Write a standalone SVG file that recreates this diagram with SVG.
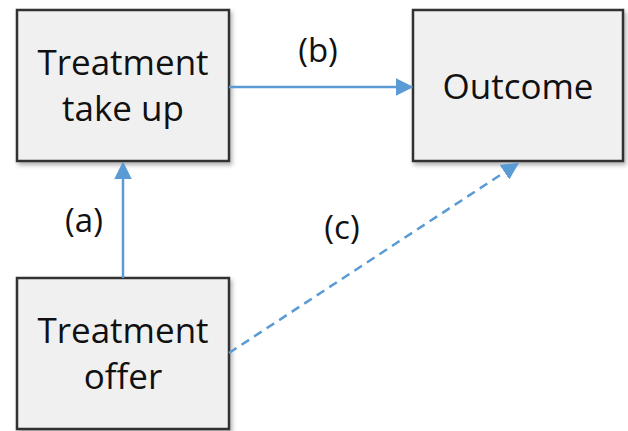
<svg xmlns="http://www.w3.org/2000/svg" width="628" height="431" viewBox="0 0 628 431">
<style>
.box{fill:#f0f0f0;stroke:#333;stroke-width:2.5}
.t{font-family:"Open Sans","Noto Sans",sans-serif;font-size:35px;fill:#111;text-anchor:middle}
.lbl{font-family:"Open Sans","Noto Sans",sans-serif;font-size:33px;fill:#111;text-anchor:middle}
.con{stroke:#5b9bd5;stroke-width:2.5;fill:none}
</style>
<defs>
<marker id="ah" markerWidth="7" markerHeight="7" refX="6" refY="3.5" orient="auto" markerUnits="strokeWidth">
<path d="M0,0 L7,3.5 L0,7 Z" fill="#5b9bd5"/>
</marker>
<filter id="sh" x="-10%" y="-10%" width="130%" height="130%">
<feDropShadow dx="2" dy="3" stdDeviation="2" flood-color="#000" flood-opacity="0.3"/>
</filter>
</defs>
<g id="takeup">
<rect class="box" x="17" y="10" width="212" height="151" filter="url(#sh)"/>
<text class="t" x="123" y="75">Treatment</text>
<text class="t" x="123" y="121">take up</text>
</g>
<g id="outcome">
<rect class="box" x="413" y="10" width="210" height="151" filter="url(#sh)"/>
<text class="t" x="518" y="99">Outcome</text>
</g>
<g id="offer">
<rect class="box" x="17" y="278" width="212" height="151" filter="url(#sh)"/>
<text class="t" x="123" y="343">Treatment</text>
<text class="t" x="123" y="389">offer</text>
</g>
<g id="connectors">
<line class="con" x1="123" y1="278" x2="123" y2="164" marker-end="url(#ah)"/>
<line class="con" x1="229" y1="87" x2="411" y2="87" marker-end="url(#ah)"/>
<line class="con" x1="229" y1="353" x2="517" y2="164" stroke-dasharray="9,6" marker-end="url(#ah)"/>
<text class="lbl" x="84" y="232">(a)</text>
<text class="lbl" x="318" y="62">(b)</text>
<text class="lbl" x="342" y="239">(c)</text>
</g>
</svg>
